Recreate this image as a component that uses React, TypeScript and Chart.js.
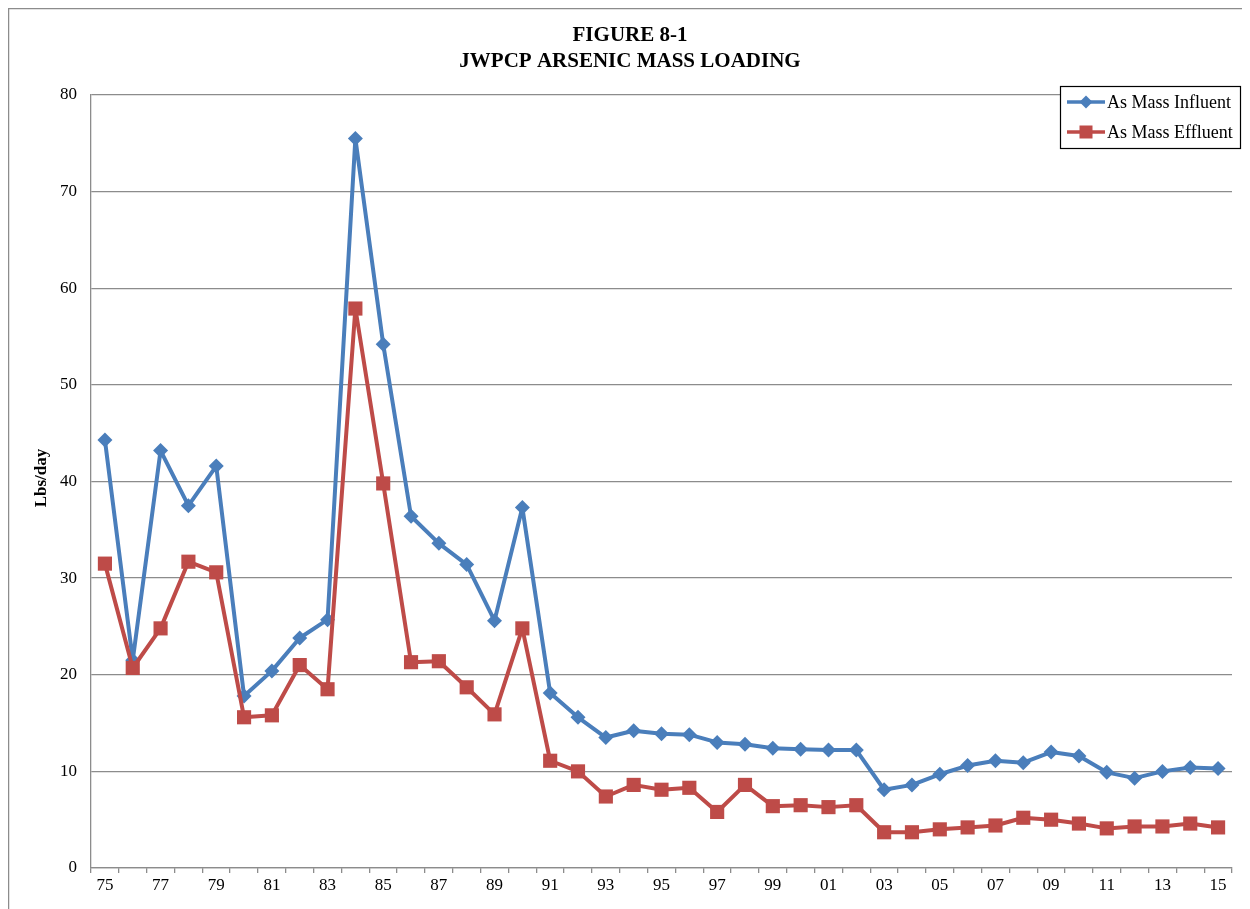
import React, { useEffect, useRef } from "react";
import { Chart, registerables } from "chart.js";

Chart.register(...registerables);

const years: string[] = [
  "75", "76", "77", "78", "79", "80", "81", "82", "83", "84",
  "85", "86", "87", "88", "89", "90", "91", "92", "93", "94",
  "95", "96", "97", "98", "99", "00", "01", "02", "03", "04",
  "05", "06", "07", "08", "09", "10", "11", "12", "13", "14", "15",
];

const influent: number[] = [
  44.3, 21.5, 43.2, 37.5, 41.6, 17.8, 20.4, 23.8, 25.7, 75.5,
  54.2, 36.4, 33.6, 31.4, 25.6, 37.3, 18.1, 15.6, 13.5, 14.2,
  13.9, 13.8, 13.0, 12.8, 12.4, 12.3, 12.2, 12.2, 8.1, 8.6,
  9.7, 10.6, 11.1, 10.9, 12.0, 11.6, 9.9, 9.3, 10.0, 10.4, 10.3,
];

const effluent: number[] = [
  31.5, 20.7, 24.8, 31.7, 30.6, 15.6, 15.8, 21.0, 18.5, 57.9,
  39.8, 21.3, 21.4, 18.7, 15.9, 24.8, 11.1, 10.0, 7.4, 8.6,
  8.1, 8.3, 5.8, 8.6, 6.4, 6.5, 6.3, 6.5, 3.7, 3.7,
  4.0, 4.2, 4.4, 5.2, 5.0, 4.6, 4.1, 4.3, 4.3, 4.6, 4.2,
];

const titleLines: string[] = ["FIGURE 8-1", "JWPCP ARSENIC MASS LOADING"];
const yTitle = "Lbs/day";
const seriesNames: string[] = ["As Mass Influent", "As Mass Effluent"];

const BLUE = "#4a7ebb";
const RED = "#be4b48";
const GRID = "#8c8c8c";
const SERIF = "'Liberation Serif', 'Times New Roman', serif";

const W = 1234;
const H = 901;

export default function App() {
  const ref = useRef<HTMLCanvasElement | null>(null);

  useEffect(() => {
    document.documentElement.style.overflow = "hidden";
    const canvas = ref.current;
    if (!canvas) return;

    const decor = {
      id: "decor",
      beforeDraw(chart: any) {
        const ctx = chart.ctx;
        ctx.save();
        ctx.fillStyle = "#ffffff";
        ctx.fillRect(0, 0, chart.width, chart.height);
        ctx.strokeStyle = GRID;
        ctx.lineWidth = 1.5;
        ctx.beginPath();
        ctx.moveTo(0.5, H + 5);
        ctx.lineTo(0.5, 0.5);
        ctx.lineTo(W + 5, 0.5);
        ctx.stroke();
        ctx.restore();
      },
      afterDraw(chart: any) {
        const ctx = chart.ctx;
        ctx.save();
        // title
        ctx.fillStyle = "#000";
        ctx.textAlign = "center";
        ctx.textBaseline = "middle";
        ctx.font = `bold 21px ${SERIF}`;
        ctx.fillText(titleLines[0], 622, 28);
        ctx.fillText(titleLines[1], 622, 54);
        // y title
        ctx.save();
        ctx.translate(34, 470);
        ctx.rotate(-Math.PI / 2);
        ctx.font = `bold 17px ${SERIF}`;
        ctx.fillText(yTitle, 0, 0);
        ctx.restore();
        // legend
        const bx = 1052, by = 78, bw = 180, bh = 62;
        ctx.fillStyle = "#fff";
        ctx.fillRect(bx, by, bw, bh);
        ctx.strokeStyle = "#000";
        ctx.lineWidth = 1.2;
        ctx.strokeRect(bx + 0.5, by + 0.5, bw, bh);
        const rows = [
          { name: seriesNames[0], color: BLUE, y: 94, diamond: true },
          { name: seriesNames[1], color: RED, y: 124, diamond: false },
        ];
        for (const r of rows) {
          ctx.strokeStyle = r.color;
          ctx.lineWidth = 3.5;
          ctx.beginPath();
          ctx.moveTo(1059, r.y);
          ctx.lineTo(1097, r.y);
          ctx.stroke();
          ctx.fillStyle = r.color;
          const cx = 1078;
          if (r.diamond) {
            ctx.beginPath();
            ctx.moveTo(cx, r.y - 6.5);
            ctx.lineTo(cx + 6.5, r.y);
            ctx.lineTo(cx, r.y + 6.5);
            ctx.lineTo(cx - 6.5, r.y);
            ctx.closePath();
            ctx.fill();
          } else {
            ctx.fillRect(cx - 6.5, r.y - 6.5, 13, 13);
          }
          ctx.fillStyle = "#000";
          ctx.textAlign = "left";
          ctx.font = `18px ${SERIF}`;
          ctx.fillText(r.name, 1099, r.y + 1);
        }
        ctx.restore();
      },
    };

    const chart = new Chart(canvas, {
      type: "line",
      data: {
        labels: years,
        datasets: [
          {
            label: seriesNames[0],
            data: influent,
            borderColor: BLUE,
            backgroundColor: BLUE,
            borderWidth: 4,
            borderJoinStyle: "round",
            pointStyle: "rectRot",
            pointRadius: 7.5,
            pointHoverRadius: 7.5,
            pointBorderWidth: 0,
            tension: 0,
            order: 1,
          },
          {
            label: seriesNames[1],
            data: effluent,
            borderColor: RED,
            backgroundColor: RED,
            borderWidth: 4,
            borderJoinStyle: "round",
            pointStyle: "rect",
            pointRadius: 10,
            pointHoverRadius: 10,
            pointBorderWidth: 0,
            tension: 0,
            order: 0,
          },
        ],
      },
      options: {
        responsive: false,
        animation: false,
        devicePixelRatio: 1,
        layout: { padding: { top: 87, right: 8, left: 0, bottom: 0 } },
        plugins: {
          legend: { display: false },
          title: { display: false },
          tooltip: { enabled: false },
        },
        scales: {
          x: {
            type: "category",
            offset: true,
            afterFit(scale: any) {
              scale.height = 41;
            },
            grid: {
              offset: true,
              drawOnChartArea: false,
              drawTicks: true,
              tickLength: 5,
              color: GRID,
              lineWidth: 1.3,
            },
            border: { display: true, color: GRID, width: 1.3 },
            ticks: {
              autoSkip: false,
              maxRotation: 0,
              minRotation: 0,
              padding: 2,
              color: "#000",
              font: { family: SERIF, size: 17 },
              callback: (_v: any, i: number) => (i % 2 === 0 ? years[i] : ""),
            },
          },
          y: {
            min: 0,
            max: 80,
            afterFit(scale: any) {
              scale.width = 83;
            },
            grid: {
              drawTicks: false,
              color: GRID,
              lineWidth: 1.3,
            },
            border: { display: true, color: GRID, width: 1.3 },
            ticks: {
              stepSize: 10,
              padding: 14,
              color: "#000",
              font: { family: SERIF, size: 17 },
            },
          },
        },
      },
      plugins: [decor],
    });

    return () => chart.destroy();
  }, []);

  return (
    <div style={{ width: W, height: H }}>
      <canvas ref={ref} width={W} height={H} style={{ display: "block", width: W, height: H }} />
    </div>
  );
}
